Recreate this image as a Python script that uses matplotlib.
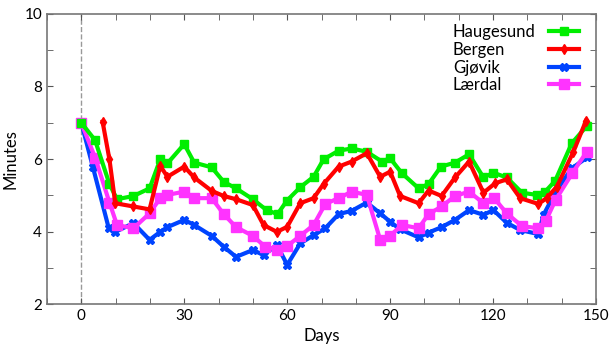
import matplotlib
matplotlib.use("Agg")
import matplotlib.pyplot as plt
from matplotlib.ticker import MultipleLocator

plt.rcParams['font.family'] = ['Lato', 'DejaVu Sans']

# Days (x) and minutes (y) per town
days_h = [0, 4, 8.2, 10.4, 15.2, 19.9, 23, 25.1, 30, 32.9, 38, 41.5, 45.1, 50, 54, 57.2,
          59.9, 63.8, 67.7, 70.6, 75, 78.8, 83.2, 87.6, 90, 93.4, 98.3, 101.2, 104.8, 108.9,
          113, 117.2, 120.1, 124, 128.4, 132.7, 135.2, 138.1, 142.9, 147.3]
haugesund = [7.0, 6.52, 5.31, 4.89, 4.98, 5.19, 5.99, 5.88, 6.41, 5.90, 5.77, 5.37, 5.19, 4.89, 4.59, 4.48,
             4.85, 5.22, 5.51, 5.99, 6.23, 6.29, 6.20, 5.93, 6.02, 5.61, 5.19, 5.31, 5.79, 5.90,
             6.13, 5.49, 5.62, 5.49, 5.07, 5.01, 5.10, 5.40, 6.43, 6.91]

days_b = [6.2, 8.2, 9.9, 15.2, 19.9, 23, 25.1, 30, 32.9, 38, 41.5, 45.1, 50, 53.1, 57,
          60, 63.8, 67.7, 70.6, 75, 78.8, 83.2, 87.1, 90, 92.9, 98.3, 101.2, 105, 108.9,
          113, 117.2, 120.6, 124, 127.9, 133.2, 135.6, 138.6, 143.4, 147.1]
bergen = [7.03, 5.99, 4.78, 4.69, 4.61, 5.81, 5.51, 5.79, 5.49, 5.12, 4.98, 4.89, 4.73, 4.18, 3.99,
          4.13, 4.78, 4.92, 5.31, 5.79, 5.93, 6.16, 5.51, 5.65, 4.98, 4.78, 5.13, 4.98, 5.49,
          5.93, 5.07, 5.33, 5.44, 4.92, 4.76, 4.92, 5.24, 6.20, 7.06]

days_g = [0, 3.4, 8, 9.9, 15.2, 19.9, 23, 25.1, 30, 32.9, 38, 41.5, 45.1, 50, 53.1, 57,
          60, 63.8, 67.7, 71.1, 75, 78.8, 83.2, 87.1, 90, 92.9, 98.3, 101.2, 105, 108.9,
          113, 117.2, 120.1, 124, 127.9, 133.2, 134.7, 138.1, 142.9, 147.5]
gjovik = [7.0, 5.77, 4.09, 3.99, 4.23, 3.77, 3.99, 4.12, 4.32, 4.18, 3.88, 3.58, 3.30, 3.49, 3.35, 3.63,
          3.08, 3.67, 3.90, 4.09, 4.48, 4.57, 4.80, 4.50, 4.27, 4.06, 3.84, 3.97, 4.12, 4.32,
          4.59, 4.46, 4.59, 4.24, 4.04, 3.93, 4.46, 5.07, 5.74, 6.05]

days_l = [0, 4.1, 8.2, 10.4, 15.2, 19.9, 23, 25.1, 30, 32.9, 38, 41.5, 45.1, 50, 53.6, 57,
          60, 63.8, 67.7, 71.1, 75, 78.8, 83.2, 87.1, 90, 93.4, 98.3, 101.2, 105, 108.9,
          113, 117.2, 120.3, 124, 128.4, 133.2, 135.4, 138.2, 143.1, 147.3]
laerdal = [7.0, 6.02, 4.80, 4.18, 4.09, 4.50, 4.92, 5.01, 5.10, 4.92, 4.92, 4.48, 4.12, 3.88, 3.58, 3.49,
           3.60, 3.88, 4.18, 4.76, 4.92, 5.10, 5.01, 3.77, 3.88, 4.18, 4.09, 4.48, 4.69, 4.98,
           5.10, 4.78, 4.92, 4.50, 4.15, 4.09, 4.30, 4.87, 5.61, 6.20]

fig = plt.figure(figsize=(6.11, 3.48), dpi=100)
ax = fig.add_axes([0.0769, 0.1264, 0.8986, 0.8334])

ax.axvline(0, color='#999999', ls='--', lw=1, zorder=1)

ax.plot(days_h, haugesund, '-s', color='#00ee00', lw=3, ms=6, label='Haugesund', zorder=3)
ax.plot(days_b, bergen, '-d', color='#ff0000', lw=3, ms=5, label='Bergen', zorder=4)
ax.plot(days_g, gjovik, '-X', color='#0044ff', lw=3, ms=6, label='Gjøvik', zorder=2)
ax.plot(days_l, laerdal, '-s', color='#ff33ff', lw=3, ms=7, label='Lærdal', zorder=2.5)

ax.set_xlim(-10, 150)
ax.set_ylim(2, 10)
ax.xaxis.set_major_locator(MultipleLocator(30))
ax.xaxis.set_minor_locator(MultipleLocator(10))
ax.yaxis.set_major_locator(MultipleLocator(2))
ax.yaxis.set_minor_locator(MultipleLocator(1))
ax.tick_params(which='both', direction='in', top=True, right=True, colors='#555555',
               labelcolor='black', labelsize=11)
ax.tick_params(which='both', length=4)
for s in ax.spines.values():
    s.set_color('#777777')
    s.set_linewidth(1.2)

ax.set_xlabel('Days', fontsize=12)
ax.set_ylabel('Minutes', fontsize=12)

leg = ax.legend(loc='upper right', frameon=False, markerfirst=False, fontsize=12,
                handlelength=1.8, labelspacing=0.1, borderaxespad=0.3, handletextpad=0.4,
                bbox_to_anchor=(0.99, 1.005))
# text left aligned, handles lined up on the right
for col in leg._legend_handle_box.get_children():
    col.align = 'left'
    for row in col.get_children():
        row.mode = 'expand'
        row.width = 126

fig.savefig('out.png', dpi=100)
